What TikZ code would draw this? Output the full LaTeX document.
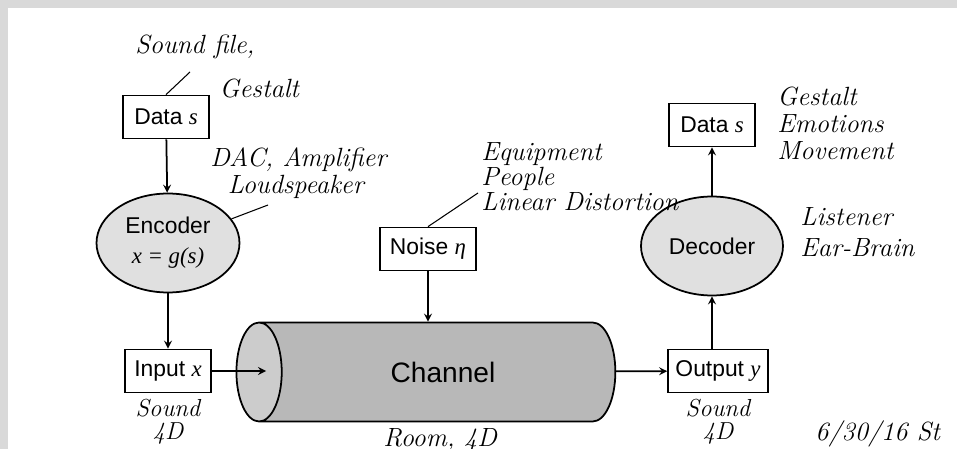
\documentclass[tikz,border=0pt]{standalone}
\usepackage{fontspec}
\setsansfont{Liberation Sans}
\newfontfamily\varfont{Liberation Serif}
\usetikzlibrary{shapes, arrows, positioning, calc}

\newcommand{\vsym}[1]{{\varfont\itshape #1}}

\begin{document}
\begin{tikzpicture}[
        x=0.02cm, y=-0.02cm,
        box/.style={rectangle, draw=black, line width=1pt, fill=white, inner sep=0pt, minimum width=1.72cm, minimum height=0.86cm, font=\sffamily\fontsize{13}{15}\selectfont},
        oval/.style={ellipse, draw=black, line width=1pt, fill=black!12, inner sep=0pt, minimum width=2.86cm, minimum height=1.98cm, align=center, font=\sffamily\fontsize{13}{17}\selectfont},
        pipe/.style={cylinder, shape border rotate=180, aspect=1.4, draw=black, line width=1pt, cylinder uses custom fill, cylinder body fill=black!28, cylinder end fill=black!20, minimum height=7.58cm, minimum width=1.98cm, font=\sffamily\fontsize{16}{18}\selectfont},
        arrow/.style={->, >=stealth, line width=1pt},
        leader/.style={line width=0.6pt},
        note/.style={font=\fontsize{15}{#1}\selectfont\itshape, align=left, inner sep=0pt},
        note/.default=16pt
    ]
        % frame
        \fill[black!15] (0,0) rectangle (957,449);
        \fill[white] (8,8) rectangle (957,449);
        \useasboundingbox (0,0) rectangle (957,449);

        \node[pipe] (channel) at (443,372) {Channel};
        \node[box] (dataL) at (166,117) {Data \vsym{s}};
        \node[oval] (encoder) at (168,243) {Encoder\\\vsym{x = g(s)}};
        \node[box] (input) at (168,371) {Input \vsym{x}};
        \node[box, minimum width=1.92cm] (noise) at (428,249) {Noise \vsym{η}};
        \node[box, minimum width=2cm] (output) at (718,371) {Output \vsym{y}};
        \node[oval, minimum width=2.84cm] (decoder) at (712,246) {Decoder};
        \node[box] (dataR) at (712,125) {Data \vsym{s}};

        \coordinate (chin) at (266,371);
        \draw[arrow] (dataL) -- (encoder);
        \draw[arrow] (encoder) -- (input);
        \draw[arrow] (input) -- (chin);
        \draw[arrow] (noise.south) -- (noise.south |- channel.north);
        \draw[arrow] (channel) -- (output);
        \draw[arrow] (output.north -| decoder.south) -- (decoder.south);
        \draw[arrow] (decoder) -- (dataR);

        % handwritten notes
        \node[note=25pt, anchor=north west] (sfnote) at (135,35) {Sound file,\\\hspace*{48pt}Gestalt};
        \node[note=15.3pt, anchor=north west] (dacnote) at (210,147) {DAC, Amplifier\\\hspace*{10pt}Loudspeaker};
        \node[note=12pt, anchor=north west] (eqnote) at (481,142) {Equipment\\People\\Linear Distortion};
        \node[note=15.3pt, anchor=north west] (gemnote) at (777,87) {Gestalt\\Emotions\\Movement};
        \node[note=18pt, anchor=north west] (lisnote) at (800,207) {Listener\\Ear-Brain};
        \node[note=13pt, font=\fontsize{14}{13}\selectfont\itshape, align=center, below=3pt of input] (sndin) {Sound\\4D};
        \node[note=13pt, font=\fontsize{14}{13}\selectfont\itshape, align=center, below=3pt of output] (sndout) {Sound\\4D};
        \node[note, anchor=north west] (room) at (383,428) {Room, 4D};
        \node[note, anchor=north west] (date) at (815,420) {6/30/16 St};

        \coordinate (sfend) at (190,72);
        \coordinate (dacend) at (268,205);
        \coordinate (eqend) at (478,193);
        \draw[leader] (dataL.north) -- (sfend);
        \draw[leader] (encoder) -- (dacend);
        \draw[leader] (noise.north) -- (eqend);
    \end{tikzpicture}
\end{document}
